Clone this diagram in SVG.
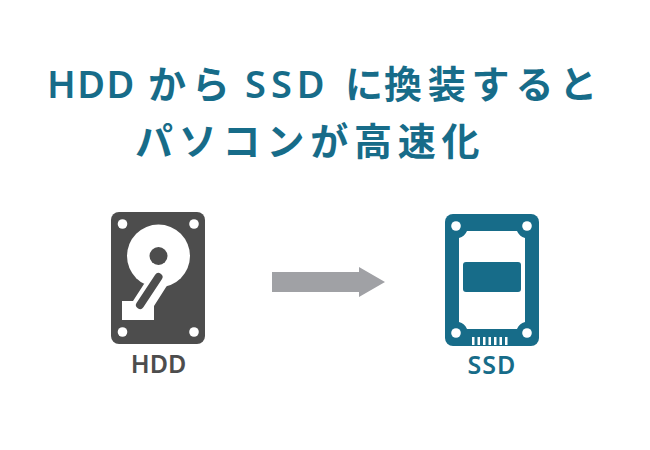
<svg xmlns="http://www.w3.org/2000/svg" width="650" height="450" viewBox="0 0 650 450">
<style>
.t{font-family:"Noto Sans CJK JP","Noto Sans",sans-serif;font-weight:700;font-size:38px;fill:#176c89;letter-spacing:5.8px}
.t .a{font-family:"Noto Sans","Noto Sans CJK JP",sans-serif;font-weight:600;font-size:38px;letter-spacing:1.5px}
.t .b{letter-spacing:0}
.l{font-family:"Noto Sans","Noto Sans CJK JP",sans-serif;font-weight:600;font-size:25px;text-anchor:middle}
.w{fill:#fff}
.bar{fill:#fff}
</style>
<rect width="650" height="450" fill="#fff"/>
<g id="title">
<text class="t" y="98"><tspan class="a" x="47">HDD </tspan><tspan x="148">から </tspan><tspan class="a" x="245" style="letter-spacing:5px">SSD </tspan><tspan class="b" x="345">に</tspan><tspan x="384">換装すると</tspan></text>
<text class="t" x="135" y="155">パソコンが高速化</text>
</g>
<g id="hdd">
<rect x="111" y="212" width="94" height="132" rx="8" fill="#4d4d4d"/>
<g class="w"><circle cx="122.500" cy="224" r="4.800"/><circle cx="194" cy="224" r="4.800"/><circle cx="122.500" cy="332" r="4.800"/><circle cx="194" cy="332" r="4.800"/>
<circle cx="158.500" cy="256" r="31.500"/></g>
<circle cx="158.500" cy="256" r="9" fill="#4d4d4d"/>
<path d="M122 301H133L144 284H168L154 306V320H122Z" fill="#fff"/>
<line x1="158.500" y1="277" x2="140" y2="305" stroke="#4d4d4d" stroke-width="8" stroke-linecap="round"/>
<text class="l" x="158.500" y="373" fill="#4d4d4d">HDD</text>
</g>
<g id="ssd">
<rect x="445" y="214" width="94" height="132" rx="8" fill="#176c89"/>
<path d="M467 231H517A12 12 0 0 0 525 238V322A12 12 0 0 0 517 329H467A12 12 0 0 0 459 322V238A12 12 0 0 0 467 231Z" fill="#fff"/>
<g class="w"><circle cx="456" cy="226" r="4.800"/><circle cx="527" cy="226" r="4.800"/><circle cx="456" cy="333" r="4.800"/><circle cx="527" cy="333" r="4.800"/></g>
<rect x="463" y="262" width="58" height="30" rx="3" fill="#176c89"/>
<g class="bar"><rect x="472" y="337" width="2.500" height="8"/><rect x="477.500" y="337" width="2.500" height="8"/><rect x="483" y="337" width="2.500" height="8"/><rect x="488.500" y="337" width="2.500" height="8"/><rect x="494" y="337" width="2.500" height="8"/><rect x="499.500" y="337" width="2.500" height="8"/><rect x="505" y="337" width="2.500" height="8"/></g>
<text class="l" x="492" y="374" fill="#176c89" letter-spacing="1">SSD</text>
</g>
<g id="connectors">
<path d="M272 272H359V267L385 282L359 297V292H272Z" fill="#a0a1a5"/>
</g>
</svg>
